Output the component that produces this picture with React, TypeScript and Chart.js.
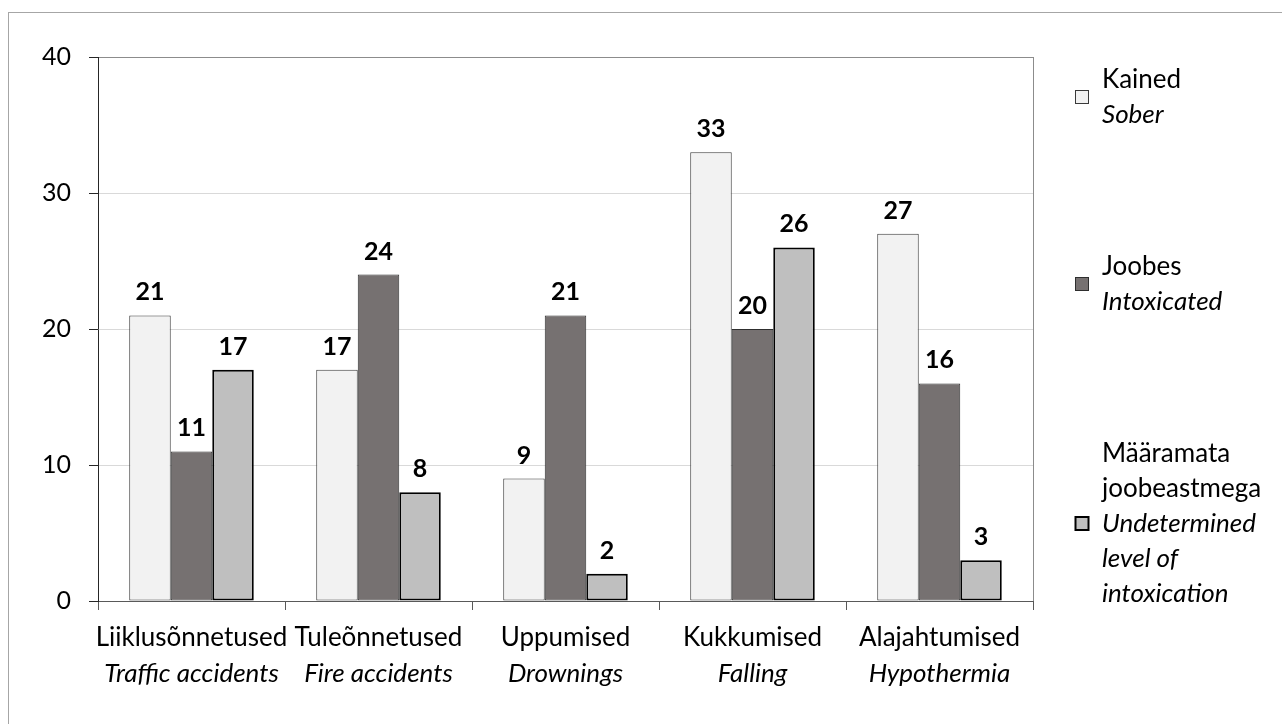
import React, { useEffect, useRef } from "react";
import { Chart, registerables } from "chart.js";

Chart.register(...registerables);

const categoriesEt = ["Liiklusõnnetused", "Tuleõnnetused", "Uppumised", "Kukkumised", "Alajahtumised"];
const categoriesEn = ["Traffic accidents", "Fire accidents", "Drownings", "Falling", "Hypothermia"];

const soberValues = [21, 17, 9, 33, 27];
const intoxicatedValues = [11, 24, 21, 20, 16];
const undeterminedValues = [17, 8, 2, 26, 3];

const legendEt = [["Kained"], ["Joobes"], ["Määramata", "joobeastmega"]];
const legendEn = [["Sober"], ["Intoxicated"], ["Undetermined", "level of", "intoxication"]];

const yTicks = [0, 10, 20, 30, 40];

const FONT = "Lato, 'Noto Sans', sans-serif";

const colors = ["#f2f2f2", "#767171", "#bfbfbf"];
const borders = ["#3a3a3a", "#2e2e2e", "#000000"];
const borderWidths = [1, 1, 2];

const customPlugin = {
  id: "custom",
  afterDraw(chart: any) {
    const ctx = chart.ctx;
    const area = chart.chartArea;
    const xScale = chart.scales.x;
    ctx.save();
    // right border of plot
    ctx.strokeStyle = "#8c8c8c";
    ctx.lineWidth = 1;
    ctx.beginPath();
    ctx.moveTo(Math.round(area.right) + 0.5, area.top);
    ctx.lineTo(Math.round(area.right) + 0.5, area.bottom);
    ctx.stroke();

    // data labels
    ctx.fillStyle = "#000";
    ctx.font = `bold 25px ${FONT}`;
    ctx.textAlign = "center";
    ctx.textBaseline = "alphabetic";
    chart.data.datasets.forEach((ds: any, di: number) => {
      const meta = chart.getDatasetMeta(di);
      meta.data.forEach((el: any, i: number) => {
        ctx.fillText(String(ds.data[i]), el.x, el.y - 15);
      });
    });

    // category labels
    const labels = chart.data.labels as string[];
    labels.forEach((_l: string, i: number) => {
      const x = xScale.getPixelForValue(i);
      ctx.font = `26px ${FONT}`;
      ctx.fillText(categoriesEt[i], x, area.bottom + 45);
      ctx.font = `italic 26px ${FONT}`;
      ctx.fillText(categoriesEn[i], x, area.bottom + 81);
    });

    // legend
    const lx = area.right + 42;
    const tx = area.right + 69;
    const lineH = 35;
    const gap = 117;
    let top = 62;
    ctx.textAlign = "left";
    chart.data.datasets.forEach((ds: any, di: number) => {
      const lines: [string, boolean][] = [
        ...legendEt[di].map((s) => [s, false] as [string, boolean]),
        ...legendEn[di].map((s) => [s, true] as [string, boolean]),
      ];
      const h = lines.length * lineH;
      lines.forEach(([s, it], li) => {
        ctx.font = `${it ? "italic " : ""}26px ${FONT}`;
        ctx.fillText(s, tx, top + li * lineH + 26);
      });
      const cy = top + h / 2;
      ctx.fillStyle = ds.backgroundColor;
      ctx.fillRect(lx, cy - 7, 14, 14);
      ctx.strokeStyle = ds.borderColor;
      ctx.lineWidth = ds.borderWidth;
      ctx.strokeRect(lx + 0.5, cy - 6.5, 13, 13);
      ctx.fillStyle = "#000";
      top += h + gap;
    });
    ctx.restore();
  },
};

export default function App() {
  const ref = useRef<HTMLCanvasElement | null>(null);
  useEffect(() => {
    document.body.style.margin = "0";
    const canvas = ref.current!;
    const chart = new Chart(canvas, {
      type: "bar",
      data: {
        labels: categoriesEt,
        datasets: [
          { label: "Kained", data: soberValues },
          { label: "Joobes", data: intoxicatedValues },
          { label: "Määramata joobeastmega", data: undeterminedValues },
        ].map((d, i) => ({
          ...d,
          backgroundColor: colors[i],
          borderColor: borders[i],
          borderWidth: borderWidths[i],
          borderSkipped: false,
          categoryPercentage: 0.666,
          barPercentage: 1,
        })),
      },
      options: {
        responsive: false,
        animation: false,
        devicePixelRatio: 1,
        layout: { padding: { left: 0, top: 57, right: 249, bottom: 0 } },
        plugins: { legend: { display: false }, tooltip: { enabled: false } },
        scales: {
          x: {
            offset: true,
            grid: { display: true, drawOnChartArea: false, drawTicks: true, tickLength: 9, color: "#595959" },
            border: { display: true, color: "#595959", width: 1 },
            ticks: { display: false },
            afterFit: (s: any) => {
              s.height = 123;
            },
          },
          y: {
            min: 0,
            max: 40,
            afterBuildTicks: (s: any) => {
              s.ticks = yTicks.map((v) => ({ value: v }));
            },
            grid: {
              color: (c: any) => (c.tick && c.tick.value === 40 ? "#8c8c8c" : "#d9d9d9"),
              tickColor: "#262626",
              tickLength: 9,
            },
            border: { display: true, color: "#262626", width: 1 },
            ticks: { color: "#000", padding: 18, font: { family: FONT, size: 25 } },
            afterFit: (s: any) => {
              s.width = 98;
            },
          },
        },
      },
      plugins: [customPlugin],
    } as any);
    return () => chart.destroy();
  }, []);
  return (
    <div style={{ position: "absolute", left: 0, top: 0, width: 1282, height: 724, background: "#fff", overflow: "hidden" }}>
      <div style={{ position: "absolute", left: 8, top: 12, width: 1300, height: 800, borderLeft: "1px solid #a6a6a6", borderTop: "1px solid #a6a6a6" }} />
      <canvas ref={ref} width={1282} height={724} style={{ position: "absolute", left: 0, top: 0 }} />
    </div>
  );
}
